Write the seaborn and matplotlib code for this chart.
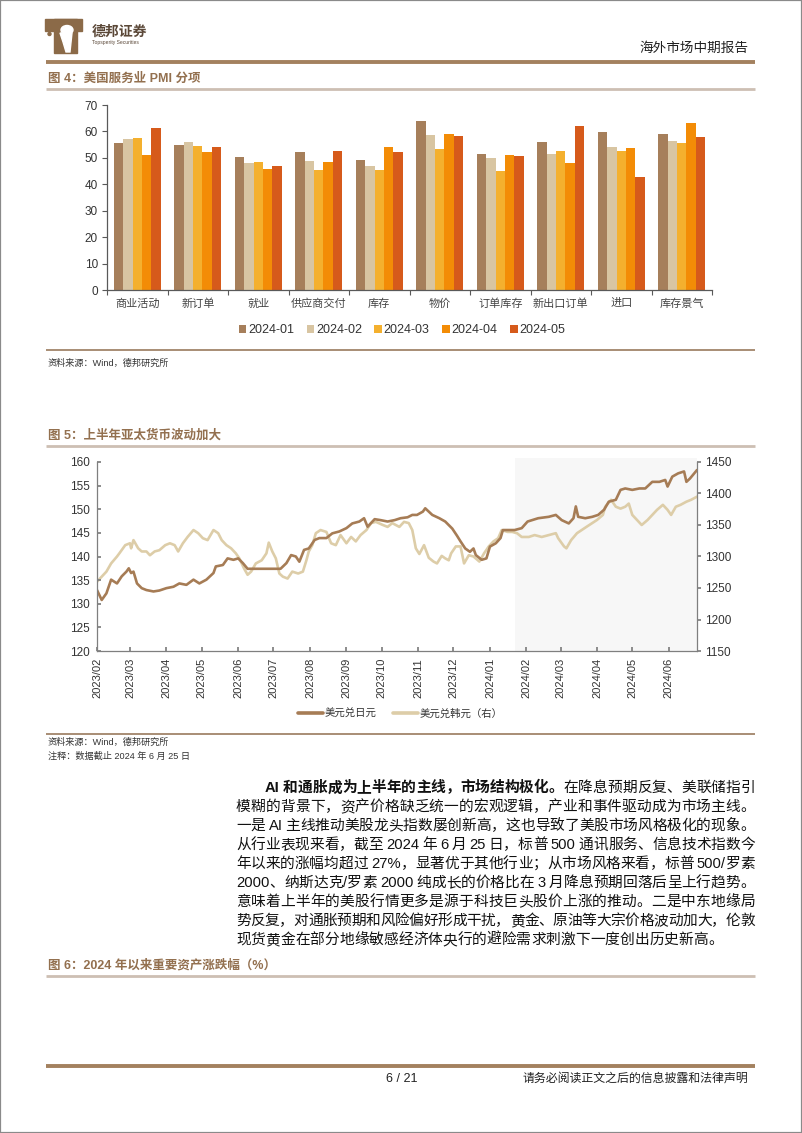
import re
import numpy as np
import pandas as pd
import matplotlib
matplotlib.use("Agg")
import matplotlib.pyplot as plt
import matplotlib.dates as mdates
from matplotlib.patches import Rectangle, Ellipse, Polygon
from matplotlib.lines import Line2D
import seaborn as sns

# ---------------- data ----------------
categories = ["商业活动", "新订单", "就业", "供应商交付", "库存", "物价", "订单库存", "新出口订单", "进口", "库存景气"]
months = ["2024-01", "2024-02", "2024-03", "2024-04", "2024-05"]
pmi_2024_01 = [55.8, 55.0, 50.5, 52.4, 49.2, 64.0, 51.4, 56.1, 59.9, 59.1]
pmi_2024_02 = [57.2, 56.1, 48.0, 48.9, 47.0, 58.6, 50.1, 51.5, 54.2, 56.5]
pmi_2024_03 = [57.4, 54.4, 48.5, 45.4, 45.5, 53.4, 45.0, 52.7, 52.6, 55.5]
pmi_2024_04 = [51.1, 52.2, 45.9, 48.5, 54.0, 59.2, 51.2, 48.2, 53.7, 63.1]
pmi_2024_05 = [61.3, 54.1, 47.1, 52.7, 52.2, 58.1, 50.8, 62.0, 42.9, 57.9]
bar_colors = ["#A67F5B", "#D8C5A2", "#F4B02E", "#F38C06", "#D65A1B"]

fx_base = "2023-02-01"
fx_end = "2024-06-25"
shade_start = "2024-01-22"
jpy_day = [0, 4, 8, 12, 17, 21, 25, 27, 29, 31, 34, 38, 42, 48, 53, 59, 65, 70, 76, 82, 87, 93, 99, 101,
           107, 111, 116, 120, 124, 128, 156, 161, 165, 169, 172, 176, 180, 185, 189, 195, 200, 206, 212,
           217, 223, 227, 230, 236, 241, 247, 253, 258, 264, 268, 272, 277, 279, 285, 291, 296, 302, 306,
           309, 313, 317, 320, 322, 327, 331, 334, 339, 343, 345, 350, 355, 361, 366, 375, 384, 390, 395,
           401, 405, 407, 409, 415, 421, 426, 431, 435, 441, 445, 449, 455, 461, 466, 472, 478, 483, 485,
           489, 494, 499, 501, 504, 510]
jpy_val = [132.9, 130.8, 132.2, 135.1, 134.3, 135.8, 136.8, 137.5, 136.5, 136.8, 134.3, 133.3, 132.9, 132.6,
           132.8, 133.3, 133.6, 134.3, 134.0, 135.1, 134.3, 135.1, 136.5, 137.9, 138.2, 139.6, 139.3, 139.6,
           138.6, 137.4, 137.4, 138.6, 140.3, 140.0, 138.9, 141.4, 141.7, 143.5, 143.9, 143.9, 144.9, 145.3,
           146.0, 147.0, 147.4, 148.1, 146.3, 147.9, 147.7, 147.4, 147.7, 148.1, 148.3, 148.8, 148.8, 149.5,
           150.2, 148.8, 148.1, 147.4, 145.9, 144.4, 143.2, 141.7, 141.0, 141.7, 140.3, 139.3, 139.6, 142.1,
           142.8, 143.9, 145.6, 145.6, 145.6, 146.0, 147.4, 148.1, 148.4, 148.8, 147.7, 147.0, 148.1, 150.6,
           148.4, 148.1, 148.4, 148.8, 149.9, 151.6, 152.0, 154.1, 154.4, 154.1, 154.4, 154.4, 155.8, 155.8,
           156.2, 154.8, 156.9, 157.6, 158.0, 155.8, 156.5, 158.3]
krw_day = [0, 4, 8, 12, 17, 19, 24, 28, 29, 31, 35, 38, 42, 45, 49, 53, 58, 62, 66, 69, 73, 77, 82, 86, 90,
           94, 99, 103, 106, 110, 114, 118, 121, 125, 128, 131, 135, 140, 144, 146, 149, 152, 155, 158, 162,
           166, 171, 175, 178, 180, 183, 186, 190, 195, 199, 203, 207, 212, 216, 220, 224, 229, 233, 237,
           243, 247, 251, 257, 261, 265, 268, 271, 274, 278, 282, 286, 289, 293, 296, 299, 301, 305, 309,
           312, 316, 320, 325, 329, 333, 337, 341, 344, 349, 353, 357, 361, 367, 372, 378, 384, 390, 392,
           397, 399, 403, 408, 412, 416, 421, 425, 430, 432, 437, 441, 445, 449, 452, 455, 459, 463, 468,
           472, 476, 481, 485, 488, 492, 496, 501, 505, 510]
krw_val = [1260, 1268, 1276, 1289, 1300, 1305, 1318, 1321, 1313, 1326, 1313, 1308, 1308, 1302, 1308, 1310,
           1318, 1321, 1318, 1308, 1321, 1331, 1342, 1337, 1329, 1326, 1342, 1337, 1326, 1318, 1313, 1305,
           1297, 1281, 1271, 1276, 1289, 1294, 1305, 1322, 1308, 1297, 1273, 1268, 1265, 1276, 1273, 1276,
           1294, 1308, 1318, 1337, 1342, 1339, 1321, 1318, 1334, 1321, 1331, 1324, 1334, 1342, 1353, 1355,
           1350, 1347, 1353, 1347, 1355, 1353, 1342, 1313, 1304, 1318, 1298, 1292, 1289, 1301, 1297, 1294,
           1305, 1316, 1316, 1289, 1302, 1300, 1292, 1305, 1316, 1324, 1329, 1342, 1339, 1339, 1337, 1331,
           1331, 1334, 1331, 1334, 1337, 1329, 1316, 1313, 1326, 1337, 1342, 1347, 1353, 1358, 1366, 1379,
           1390, 1379, 1376, 1379, 1384, 1366, 1358, 1350, 1358, 1366, 1374, 1382, 1374, 1366, 1379, 1382,
           1387, 1390, 1395]
jpy_color = "#A67C55"
krw_color = "#DDCDA8"

para_lines = [
    [("AI 和通胀成为上半年的主线，市场结构极化。", "bold"), ("在降息预期反复、美联储指引", "normal")],
    [("模糊的背景下，资产价格缺乏统一的宏观逻辑，产业和事件驱动成为市场主线。", "normal")],
    [("一是 AI 主线推动美股龙头指数屡创新高，这也导致了美股市场风格极化的现象。", "normal")],
    [("从行业表现来看，截至 2024 年 6 月 25 日，标普 500 通讯服务、信息技术指数今", "normal")],
    [("年以来的涨幅均超过 27%，显著优于其他行业；从市场风格来看，标普 500/罗素", "normal")],
    [("2000、纳斯达克/罗素 2000 纯成长的价格比在 3 月降息预期回落后呈上行趋势。", "normal")],
    [("意味着上半年的美股行情更多是源于科技巨头股价上涨的推动。二是中东地缘局", "normal")],
    [("势反复，对通胀预期和风险偏好形成干扰，黄金、原油等大宗价格波动加大，伦敦", "normal")],
    [("现货黄金在部分地缘敏感经济体央行的避险需求刺激下一度创出历史新高。", "normal")],
]

# ---------------- setup ----------------
W, H = 802, 1133
sns.set_theme(style="white")
plt.rcParams["font.family"] = ["Liberation Sans", "Noto Sans CJK SC", "DejaVu Sans"]
plt.rcParams["axes.unicode_minus"] = False

fig = plt.figure(figsize=(W / 100, H / 100), dpi=100)
fig.patch.set_facecolor("white")


def fx(x):
    return x / W


def fy(y):
    return 1 - y / H


def hline(y, x0, x1, color, lw):
    fig.add_artist(Line2D([fx(x0), fx(x1)], [fy(y), fy(y)], color=color, lw=lw,
                          transform=fig.transFigure, solid_capstyle="butt"))


def txt(x, y, s, **kw):
    kw.setdefault("va", "center")
    return fig.text(fx(x), fy(y), s, **kw)


TITLE_C = "#93704F"
DARK_LINE = "#A3815F"
LIGHT_LINE = "#CDBFB3"
MID_LINE = "#A88D75"
AXIS_C = "#7F7F7F"
LABEL_C = "#333333"

# page border
fig.patches.append(Rectangle((0, 0), 1, 1, transform=fig.transFigure, fill=False,
                             edgecolor="#8a8a8a", lw=1.6))

# logo
logo_c = "#8B6A48"
fig.patches.append(Rectangle((fx(45), fy(31)), (82 - 45) / W, (31 - 19) / H,
                             transform=fig.transFigure, color=logo_c))
fig.patches.append(Rectangle((fx(54), fy(53)), (77 - 54) / W, (53 - 19) / H,
                             transform=fig.transFigure, color=logo_c))
fig.patches.append(Ellipse((fx(67), fy(30)), 12 / W, 9 / H, transform=fig.transFigure, color="white"))
fig.patches.append(Polygon([(fx(60), fy(33)), (fx(72), fy(33)), (fx(70), fy(52)), (fx(66), fy(52)),
                            (fx(63), fy(42))], closed=True, transform=fig.transFigure, color="white"))
fig.patches.append(Ellipse((fx(49.5), fy(34)), 3 / W, 3 / H, transform=fig.transFigure, color=logo_c))
txt(92, 32, "德邦证券", fontsize=10, fontweight="bold", color="#5B4838")
txt(92, 42.5, "Topsperity Securities", fontsize=3.6, color="#5B4838")

# header
txt(748, 48, "海外市场中期报告", fontsize=9.8, ha="right", color="#222222")
hline(62, 46, 755, DARK_LINE, 2.8)

# ---------------- figure 4 : bars ----------------
txt(48, 79, "图 4：美国服务业 PMI 分项", fontsize=9, fontweight="bold", color=TITLE_C)
hline(89, 46, 755, LIGHT_LINE, 2.0)

series = [pmi_2024_01, pmi_2024_02, pmi_2024_03, pmi_2024_04, pmi_2024_05]
df = pd.DataFrame({
    "cat": categories * len(months),
    "val": [v for s in series for v in s],
    "month": [m for m in months for _ in categories],
})
ax1 = fig.add_axes([fx(107), fy(290), (712 - 107) / W, (290 - 105) / H])
sns.barplot(data=df, x="cat", y="val", hue="month", palette=bar_colors, width=0.78,
            saturation=1, linewidth=0, ax=ax1)
ax1.set_ylim(0, 70)
ax1.set_xlim(-0.5, len(categories) - 0.5)
ax1.set_yticks(range(0, 71, 10))
ax1.set_xlabel("")
ax1.set_ylabel("")
for sp in ["top", "right"]:
    ax1.spines[sp].set_visible(False)
for sp in ["left", "bottom"]:
    ax1.spines[sp].set_color("#595959")
    ax1.spines[sp].set_linewidth(0.9)
ax1.set_xticks(np.arange(-0.5, len(categories), 1), minor=True)
ax1.tick_params(axis="x", which="major", bottom=False, length=0, pad=6, labelsize=8, labelcolor="#444444")
ax1.tick_params(axis="x", which="minor", bottom=True, length=3.5, direction="out", color="#595959", width=0.8)
ax1.tick_params(axis="y", left=True, length=3.5, direction="out", color="#595959", width=0.8,
                labelsize=8.5, labelcolor=LABEL_C, pad=3)
h, l = ax1.get_legend_handles_labels()
ax1.legend(h, l, loc="center", bbox_to_anchor=(fx(402), fy(330)), bbox_transform=fig.transFigure,
           ncol=5, frameon=False, fontsize=9, handlelength=0.6, handleheight=0.6,
           handletextpad=0.15, columnspacing=1.0, labelcolor=LABEL_C)

hline(350, 46, 755, MID_LINE, 1.4)
txt(48, 363, "资料来源：Wind，德邦研究所", fontsize=6.6, color="#333333")

# ---------------- figure 5 : lines ----------------
txt(48, 435, "图 5：上半年亚太货币波动加大", fontsize=9, fontweight="bold", color=TITLE_C)
hline(446, 46, 755, LIGHT_LINE, 2.0)

base = pd.Timestamp(fx_base)
jpy_dates = base + pd.to_timedelta(jpy_day, unit="D")
krw_dates = base + pd.to_timedelta(krw_day, unit="D")

ax2 = fig.add_axes([fx(97), fy(651), 600 / W, 189 / H])
ax3 = ax2.twinx()
ax2.set_zorder(3)
ax3.set_zorder(2)
ax2.patch.set_visible(False)

ax3.axvspan(pd.Timestamp(shade_start), pd.Timestamp(fx_end), ymin=0, ymax=1.022,
            color="#F7F7F7", lw=0, clip_on=False, zorder=0)
sns.lineplot(x=krw_dates, y=krw_val, ax=ax3, color=krw_color, lw=1.9, legend=False)
sns.lineplot(x=jpy_dates, y=jpy_val, ax=ax2, color=jpy_color, lw=1.9, legend=False)

ax2.set_xlim(base, pd.Timestamp(fx_end))
ax2.set_ylim(120, 160)
ax2.set_yticks(range(120, 161, 5))
ax3.set_ylim(1150, 1450)
ax3.set_yticks(range(1150, 1451, 50))
ax2.xaxis.set_major_locator(mdates.MonthLocator())
ax2.xaxis.set_major_formatter(mdates.DateFormatter("%Y/%m"))
for a in (ax2, ax3):
    a.set_xlabel("")
    a.set_ylabel("")
    a.spines["top"].set_visible(False)
ax2.spines["right"].set_visible(False)
ax3.spines["left"].set_visible(False)
ax3.spines["bottom"].set_visible(False)
for sp in [ax2.spines["left"], ax2.spines["bottom"], ax3.spines["right"]]:
    sp.set_color(AXIS_C)
    sp.set_linewidth(0.9)
ax2.tick_params(axis="x", bottom=True, direction="in", length=3, color=AXIS_C, labelsize=8,
                labelrotation=90, pad=5, labelcolor=LABEL_C)
ax2.tick_params(axis="y", left=True, direction="in", length=3, color=AXIS_C, labelsize=8.5,
                pad=5, labelcolor=LABEL_C)
ax3.tick_params(axis="y", right=True, direction="out", length=3, color=AXIS_C, labelsize=8.5,
                pad=3, labelcolor=LABEL_C)

handles = [Line2D([], [], color=jpy_color, lw=2.6), Line2D([], [], color=krw_color, lw=2.6)]
fig.legend(handles, ["美元兑日元", "美元兑韩元（右）"], loc="center",
           bbox_to_anchor=(fx(400), fy(714)), bbox_transform=fig.transFigure, ncol=2,
           frameon=False, fontsize=7.5, handlelength=2.4, handletextpad=0.15,
           columnspacing=1.6, labelcolor=LABEL_C)

hline(734, 46, 755, MID_LINE, 1.4)
txt(48, 742, "资料来源：Wind，德邦研究所", fontsize=6.6, color="#333333")
txt(48, 756, "注释：数据截止 2024 年 6 月 25 日", fontsize=6.6, color="#333333")

# ---------------- paragraph ----------------
renderer = fig.canvas.get_renderer()
PFS = 10.6


def draw_line(y, x0, x1, segs, justify=True):
    toks = []
    for s, wgt in segs:
        for t in re.findall(r"[A-Za-z0-9%/]+| |.", s):
            toks.append((t, wgt))
    widths, arts = [], []
    for t, wgt in toks:
        if t == " ":
            widths.append(PFS * 100 / 72 * 0.22)
            arts.append(None)
            continue
        a = fig.text(0, fy(y), t, fontsize=PFS, fontweight=wgt, va="center", ha="left", color="#111111")
        widths.append(a.get_window_extent(renderer).width)
        arts.append(a)
    n = len(toks)
    gap = (x1 - x0 - sum(widths)) / (n - 1) if (justify and n > 1) else 0.0
    x = x0
    for a, w in zip(arts, widths):
        if a is not None:
            a.set_x(fx(x))
        x += w + gap


LINE0 = 788
LSTEP = 19.0
for i, segs in enumerate(para_lines):
    x0 = 265 if i == 0 else 236
    draw_line(LINE0 + i * LSTEP, x0, 755, segs, justify=(i < len(para_lines) - 1))

# ---------------- figure 6 header + footer ----------------
txt(48, 965, "图 6：2024 年以来重要资产涨跌幅（%）", fontsize=9, fontweight="bold", color=TITLE_C)
hline(976, 46, 755, LIGHT_LINE, 2.0)

hline(1066, 46, 755, DARK_LINE, 2.8)
txt(402, 1079, "6 / 21", fontsize=9, ha="center", color="#222222")
txt(748, 1079, "请务必阅读正文之后的信息披露和法律声明", fontsize=8.6, ha="right", color="#222222")

fig.savefig("out.png", dpi=100, facecolor="white")
